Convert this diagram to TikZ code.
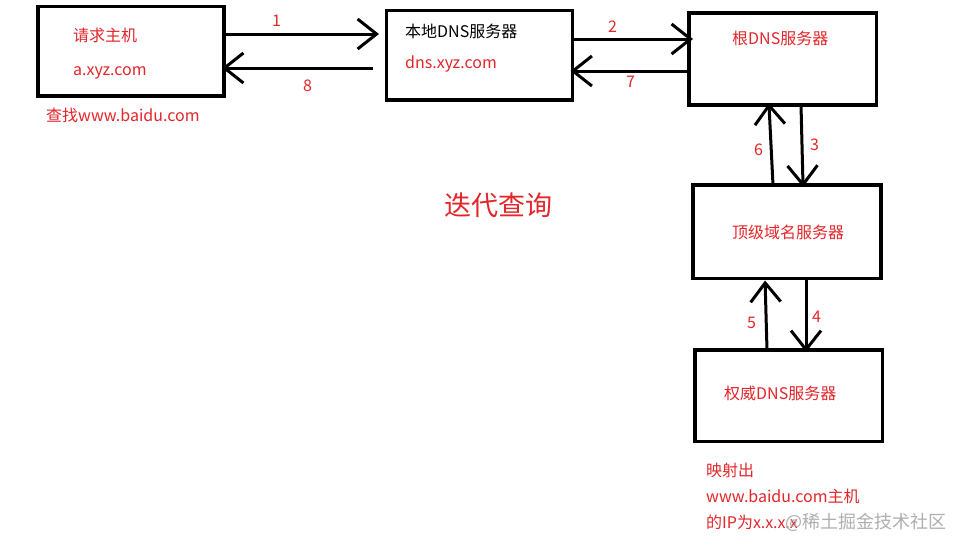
\documentclass[tikz,border=0pt]{standalone}
\usepackage{fontspec}
\setmainfont{Noto Sans CJK SC}
\usetikzlibrary{arrows.meta}
\definecolor{txtred}{RGB}{226,38,42}
\definecolor{wmgray}{RGB}{175,175,175}
\begin{document}
\begin{tikzpicture}[x=1pt,y=-1pt,
  box/.style={draw=black,line width=3.5pt,anchor=north west,inner sep=0pt,outer sep=0pt},
  arr/.style={line width=3pt,shorten >=-2pt,-{Straight Barb[length=19pt,width=30pt]}},
  rtxt/.style={text=txtred,anchor=base west,inner sep=0pt,font=\fontsize{16pt}{18pt}\selectfont},
  ktxt/.style={text=black,anchor=base west,inner sep=0pt,font=\fontsize{16pt}{18pt}\selectfont},
  num/.style={text=txtred,anchor=base west,inner sep=0pt,font=\fontsize{16pt}{18pt}\selectfont}]
\useasboundingbox (0,0) rectangle (963,550);
\fill[white] (0,0) rectangle (963,550);
% boxes
\node[box,minimum width=186pt,minimum height=89.5pt] (b1) at (38,6.5) {};
\node[box,minimum width=186pt,minimum height=89.5pt] (b2) at (386.5,10.5) {};
\node[box,minimum width=187.5pt,minimum height=92pt] (b3) at (689,13) {};
\node[box,minimum width=188pt,minimum height=93.5pt] (b4) at (693,185) {};
\node[box,minimum width=187.5pt,minimum height=91.5pt] (b5) at (695,350) {};
% texts
\node[rtxt] (t1a) at (73,41.5) {请求主机};
\node[rtxt] (t1b) at (73,75) {a.xyz.com};
\node[rtxt] (t1c) at (46,121) {查找www.baidu.com};
\node[ktxt] (t2a) at (405,37.5) {本地DNS服务器};
\node[rtxt] (t2b) at (405,68) {dns.xyz.com};
\node[rtxt] (t3) at (732,44) {根DNS服务器};
\node[rtxt] (t4) at (732,238) {顶级域名服务器};
\node[rtxt] (t5) at (724,399) {权威DNS服务器};
\node[rtxt,font=\fontsize{27pt}{30pt}\selectfont] (title) at (444,215) {迭代查询};
\node[rtxt] (n1) at (706,476) {映射出};
\node[rtxt] (n2) at (706,502) {www.baidu.com主机};
\node[rtxt] (n3) at (706,528) {的IP为x.x.x.x};
\node[anchor=base west,inner sep=0pt,text=wmgray,font=\fontsize{18pt}{20pt}\selectfont] (wm) at (785,528) {@稀土掘金技术社区};
% arrows
\draw[arr,shorten <=2pt,shorten >=7.5pt] (b1.east |- 0,34) -- (b2.west |- 0,34);
\draw[arr,shorten <=13.5pt] (b2.west |- 0,68) -- (b1.east |- 0,68);
\draw[arr,shorten >=-4pt] (b2.east |- 0,39) -- (b3.west |- 0,39);
\draw[arr] (b3.west |- 0,71) -- (b2.east |- 0,71);
\draw[arr] (b4.north -| 773,0) -- (b3.south -| 769,0);
\draw[arr] (b3.south -| 801,0) -- (b4.north -| 803,0);
\draw[arr,shorten >=2pt] (b5.north -| 767,0) -- (b4.south -| 765,0);
\draw[arr] (b4.south -| 806,0) -- (b5.north -| 806,0);
% step numbers
\node[num] (l1) at (272,26) {1};
\node[num] (l8) at (303,91) {8};
\node[num] (l2) at (608,32) {2};
\node[num] (l7) at (626,87) {7};
\node[num] (l6) at (754,155) {6};
\node[num] (l3) at (810,150) {3};
\node[num] (l5) at (747,328) {5};
\node[num] (l4) at (812,322) {4};
\end{tikzpicture}
\end{document}
